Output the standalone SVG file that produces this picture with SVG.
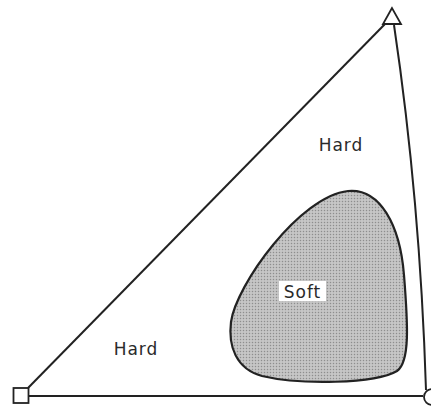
<svg xmlns="http://www.w3.org/2000/svg" width="431" height="414" viewBox="0 0 431 414">
<style>
.ln{fill:none;stroke:#222;stroke-width:2}
.nd{fill:#fff;stroke:#222;stroke-width:1.8}
.lbl{font-family:"DejaVu Sans","Liberation Sans",sans-serif;font-size:17px;letter-spacing:1px;fill:#2a2a2a}
</style>
<defs>
<pattern id="dots" width="3" height="3" patternUnits="userSpaceOnUse">
<rect width="3" height="3" fill="#bdbdbd"/>
<rect width="1" height="1" fill="#8e8e8e"/>
<rect x="1.5" y="1.5" width="1" height="1" fill="#e0e0e0"/>
</pattern>
</defs>
<rect width="431" height="414" fill="#fff"/>
<g id="connectors">
<path class="ln" d="M385,24 L28,388"/>
<path class="ln" d="M29,396 L423,396"/>
<path class="ln" d="M394,25 Q420,200 426,390"/>
</g>
<g id="region-soft">
<path d="M348,191 C380,188 400,225 404,275 C408,325 410,362 397,371 C375,384 300,385 262,376 C236,369 228,346 231,322 C236,285 300,196 348,191 Z" fill="url(#dots)" stroke="#222" stroke-width="2.2"/>
<rect x="279" y="281" width="47" height="20" fill="#fff"/>
<text class="lbl" x="302.5" y="298" text-anchor="middle">Soft</text>
</g>
<g id="label-hard-top"><text class="lbl" x="341" y="151" text-anchor="middle">Hard</text></g>
<g id="label-hard-bottom"><text class="lbl" x="136" y="355" text-anchor="middle">Hard</text></g>
<g id="node-square"><rect class="nd" x="13.5" y="388" width="15" height="15"/></g>
<g id="node-triangle"><polygon class="nd" points="392,8 383,24 401,24"/></g>
<g id="node-circle"><circle class="nd" cx="432" cy="397" r="8"/></g>
</svg>
